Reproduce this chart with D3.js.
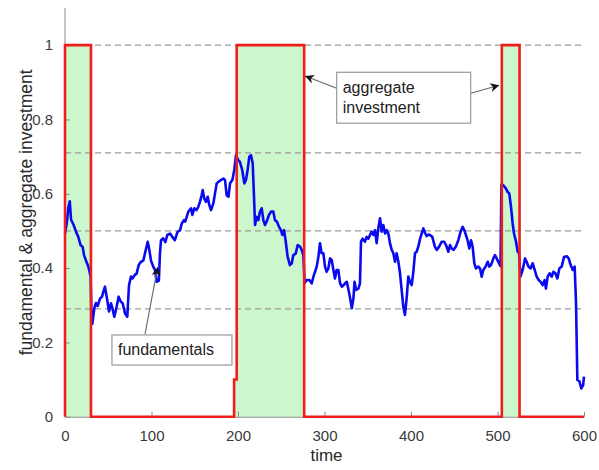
<!DOCTYPE html>
<html>
<head>
<meta charset="utf-8">
<script src="https://cdn.jsdelivr.net/npm/d3@7"></script>
<style>
  html, body { margin: 0; padding: 0; background: #fff; }
  svg { display: block; font-family: "Liberation Sans", Arial, Helvetica, sans-serif; }
</style>
</head>
<body>
<svg id="chart" width="599" height="470"></svg>
<script>
// Fundamentals: time stamps and values of the blue path
const fundTime = [
  0, 2, 4, 5.5, 7, 10, 12.7, 15.4, 18, 20.4, 22, 24.3, 27, 29.7, 30.8, 31.6, 33.9, 35.8, 37.8, 40.5,
  42.8, 44.3, 46.2, 48.2, 50.9, 53.2, 55, 57, 59.7, 62, 64.4, 66.7, 69.4, 72, 74, 76.3, 78, 80.5,
  82.8, 85.2, 87.9, 90.5, 92.9, 95.6, 97.5, 99.4, 102, 104, 106, 108.5, 109.8, 111, 113.5, 116,
  118.3, 121.5, 124, 127, 130, 133, 135, 137.5, 139, 142.6, 145.7, 147.2, 149.5, 152, 154.1, 156,
  158, 159.2, 161, 163, 165, 166.8, 168.8, 171.5, 173.4, 175.4, 177.3, 180.3, 183, 185, 186.9, 189,
  190.8, 193.5, 195.7, 197.7, 200.3, 202.2, 204.9, 207.3, 209.2, 211.1, 213.1, 215, 217, 218.5,
  219.7, 221.5, 223.5, 225.4, 227.4, 229.3, 231.2, 233.1, 235.8, 238.2, 240.8, 242.8, 245, 247.4,
  249.7, 251.2, 253.2, 255, 257.4, 260, 262, 264, 266.7, 269, 271.7, 273.6, 275.5, 277, 279.4,
  282.5, 285.2, 287.2, 289, 291, 292.9, 294.8, 296.7, 298.7, 300.6, 302.5, 304.4, 306.4, 308.3,
  310.3, 312.1, 314, 316, 318, 320, 322, 323.9, 325.8, 327.8, 329.7, 331.6, 333.5, 334.7, 336.6,
  339.3, 341, 342.2, 344.1, 346.8, 348.7, 350.6, 352.6, 354.5, 356.4, 358.4, 360.3, 362.2, 364.2,
  366.1, 368, 370, 372, 373.8, 375.7, 377.7, 379.6, 381.5, 383.4, 385.4, 387.3, 389.2, 391.1, 393,
  395, 396.9, 398.8, 400.8, 402.7, 404.6, 406.5, 408.5, 410.4, 412.3, 414.3, 416.2, 418.1, 420,
  421.9, 424.6, 427.7, 429.7, 432.4, 435.5, 438.2, 440.5, 443.2, 445.1, 447, 449, 451.7, 454.7,
  457.4, 459.7, 461.6, 463.5, 465.4, 467.4, 469.4, 471.3, 473.2, 475.1, 477.8, 479.8, 481.7, 483.6,
  486.3, 488.7, 490.5, 492.5, 495.2, 497.1, 499, 501.7, 503.5, 504.5, 506.7, 509.8, 511.7, 513.6,
  515.6, 517.5, 519.1, 521.4, 523.3, 524.9, 526.5, 529.1, 531.8, 533.7, 535.6, 538.3, 540.6, 543,
  545.3, 547.6, 549.9, 552.2, 554.5, 556, 558, 560.3, 562.7, 564.6, 566.9, 569.2, 571.5, 574.2,
  576.9, 580, 582.3, 584.6, 587, 589.2, 590.8, 592.3, 594.6, 596.9, 599, 600
];
const fundValue = [
  0.493, 0.52, 0.565, 0.58, 0.53, 0.516, 0.498, 0.484, 0.462, 0.457, 0.435, 0.42, 0.404, 0.377, 0.251, 0.25, 0.292, 0.306, 0.298, 0.318,
  0.323, 0.336, 0.35, 0.323, 0.283, 0.305, 0.29, 0.269, 0.296, 0.323, 0.31, 0.305, 0.278, 0.269, 0.354, 0.377, 0.372, 0.381,
  0.385, 0.408, 0.417, 0.42, 0.444, 0.471, 0.449, 0.42, 0.404, 0.395, 0.363, 0.366, 0.44, 0.475, 0.48, 0.47,
  0.489, 0.493, 0.484, 0.475, 0.497, 0.502, 0.52, 0.529, 0.525, 0.552, 0.561, 0.543, 0.561, 0.556, 0.565, 0.578,
  0.596, 0.61, 0.587, 0.578, 0.592, 0.57, 0.556, 0.574, 0.601, 0.628, 0.632, 0.637, 0.641, 0.637, 0.596, 0.592,
  0.628, 0.637, 0.664, 0.704, 0.69, 0.686, 0.664, 0.628, 0.637, 0.664, 0.70, 0.704, 0.682, 0.592,
  0.516, 0.538, 0.529, 0.552, 0.561, 0.529, 0.516, 0.525, 0.543, 0.552, 0.552, 0.529, 0.525, 0.511,
  0.502, 0.489, 0.502, 0.475, 0.43, 0.408, 0.412, 0.435, 0.439, 0.462, 0.458, 0.449, 0.435, 0.36, 0.368,
  0.368, 0.359, 0.377, 0.39, 0.404, 0.43, 0.467, 0.44, 0.44, 0.404, 0.39, 0.399, 0.426, 0.422,
  0.395, 0.372, 0.395, 0.395, 0.359, 0.35, 0.354, 0.359, 0.363, 0.341, 0.318, 0.292, 0.32, 0.363, 0.341,
  0.345, 0.359, 0.471, 0.479, 0.471, 0.484, 0.479, 0.489, 0.498, 0.489, 0.502, 0.467, 0.507, 0.534,
  0.498, 0.516, 0.493, 0.502, 0.493, 0.467, 0.449, 0.44, 0.417, 0.44, 0.417, 0.386, 0.341, 0.296, 0.274,
  0.32, 0.377, 0.363, 0.354, 0.39, 0.44, 0.444, 0.458, 0.478, 0.493, 0.507, 0.495, 0.486, 0.49,
  0.489, 0.484, 0.457, 0.449, 0.457, 0.471, 0.471, 0.462, 0.444, 0.462, 0.453, 0.449, 0.457, 0.475,
  0.498, 0.511, 0.502, 0.489, 0.475, 0.453, 0.475, 0.457, 0.413, 0.399, 0.404, 0.399, 0.377, 0.395,
  0.404, 0.417, 0.404, 0.408, 0.426, 0.435, 0.426, 0.413, 0.405, 0.625, 0.623, 0.614, 0.605, 0.601,
  0.565, 0.52, 0.493, 0.471, 0.444, 0.44, 0.377, 0.395, 0.426, 0.417, 0.405, 0.399, 0.413, 0.395,
  0.377, 0.368, 0.363, 0.354, 0.368, 0.345, 0.377, 0.386, 0.377, 0.39, 0.386, 0.372, 0.399, 0.404,
  0.43, 0.432, 0.426, 0.408, 0.395, 0.404, 0.305, 0.099, 0.096, 0.076, 0.085, 0.108
];

// Aggregate investment: step path (time, level)
const investTime  = [0, 0, 30, 30, 195.5, 195.5, 198.5, 198.5, 276.5, 276.5, 505, 505, 525.5, 525.5, 600];
const investValue = [0, 1, 1, 0, 0, 0.1, 0.1, 1, 1, 0, 0, 1, 1, 0, 0];

// Reference levels drawn as dashed lines
const refLevels = [1, 0.71, 0.5, 0.29];

// Axis ticks
const xTicks = [0, 100, 200, 300, 400, 500, 600];
const yTicks = [0, 0.2, 0.4, 0.6, 0.8, 1];
const yTickLabels = ["0", "0.2", "0.4", "0.6", "0.8", "1"];

const svg = d3.select("#chart");
const x = d3.scaleLinear().domain([0, 600]).range([65, 584]);
const y = d3.scaleLinear().domain([0, 1.1]).range([416.7, 8]);

const fund = fundTime.map((t, i) => ({ t, v: fundValue[i] }));
const invest = investTime.map((t, i) => ({ t, v: investValue[i] }));

// Shaded regions where investment is on
svg.append("path")
  .datum(invest)
  .attr("fill", "#ccf7cc")
  .attr("d", d3.area().x(d => x(d.t)).y0(y(0)).y1(d => y(d.v)));

// Dashed reference levels
svg.append("g").selectAll("line")
  .data(refLevels)
  .join("line")
  .attr("x1", x(0)).attr("x2", x(600))
  .attr("y1", d => y(d)).attr("y2", d => y(d))
  .attr("stroke", "#9a9a9a")
  .attr("stroke-width", 1.2)
  .attr("stroke-dasharray", "6,4");

// Axes
const tickColor = "#3a3a3a";
const xAxis = svg.append("g")
  .attr("transform", `translate(0,${y(0)})`)
  .call(d3.axisBottom(x).tickValues(xTicks).tickSizeInner(-5).tickSizeOuter(0).tickPadding(14));
const yAxis = svg.append("g")
  .attr("transform", `translate(${x(0)},0)`)
  .call(d3.axisLeft(y).tickValues(yTicks).tickFormat((d, i) => yTickLabels[i]).tickSizeInner(-5).tickSizeOuter(0).tickPadding(12));
[xAxis, yAxis].forEach(g => {
  g.select(".domain").attr("stroke", "#8a8a8a").attr("stroke-width", 1);
  g.selectAll(".tick line").attr("stroke", "#8a8a8a");
  g.selectAll(".tick text").attr("fill", tickColor).style("font-size", "15px")
    .style("font-family", "'Liberation Sans', Arial, Helvetica, sans-serif");
});
// extend the y axis to the top of the domain
yAxis.select(".domain").attr("d", `M0,${y(0)}V${y(1.1)}`);

// Fundamentals path
svg.append("path")
  .datum(fund)
  .attr("fill", "none")
  .attr("stroke", "#0a0af0")
  .attr("stroke-width", 2.6)
  .attr("stroke-linejoin", "round")
  .attr("d", d3.line().x(d => x(d.t)).y(d => y(d.v)));

// Aggregate investment path
svg.append("path")
  .datum(invest)
  .attr("fill", "none")
  .attr("stroke", "#f21c1c")
  .attr("stroke-width", 2.6)
  .attr("stroke-linejoin", "miter")
  .attr("d", d3.line().x(d => x(d.t)).y(d => y(d.v)));

// Axis titles
svg.append("text")
  .attr("x", (x(0) + x(600)) / 2 + 2).attr("y", 461)
  .attr("text-anchor", "middle")
  .attr("fill", "#2a2a2a")
  .style("font-size", "17px")
  .text("time");
svg.append("text")
  .attr("transform", `translate(32,${(y(0) + y(1.1)) / 2}) rotate(-90)`)
  .attr("text-anchor", "middle")
  .attr("fill", "#2a2a2a")
  .style("font-size", "17.5px")
  .text("fundamental & aggregate investment");

// Annotations
const defs = svg.append("defs");
defs.append("marker")
  .attr("id", "head")
  .attr("viewBox", "0 0 10 10")
  .attr("refX", 10).attr("refY", 5)
  .attr("markerWidth", 9).attr("markerHeight", 9)
  .attr("markerUnits", "userSpaceOnUse")
  .attr("orient", "auto")
  .append("path")
  .attr("d", "M0,0 L10,5 L0,10 L3,5 Z")
  .attr("fill", "#111");

function arrow(t0, v0, t1, v1) {
  svg.append("line")
    .attr("x1", x(t0)).attr("y1", y(v0))
    .attr("x2", x(t1)).attr("y2", y(v1))
    .attr("stroke", "#666").attr("stroke-width", 1.1)
    .attr("marker-end", "url(#head)");
}
function box(t0, t1, vTop, vBottom, lines) {
  svg.append("rect")
    .attr("x", x(t0)).attr("y", y(vTop))
    .attr("width", x(t1) - x(t0)).attr("height", y(vBottom) - y(vTop))
    .attr("fill", "#fff").attr("stroke", "#999").attr("stroke-width", 1.2);
  const txt = svg.append("text")
    .attr("fill", "#222")
    .style("font-size", "16px");
  const lineH = 20;
  const top = y(vTop) + (y(vBottom) - y(vTop) - lineH * lines.length) / 2;
  lines.forEach((s, i) => {
    txt.append("tspan")
      .attr("x", x(t0) + 6)
      .attr("y", top + lineH * i + 15)
      .text(s);
  });
}

arrow(92.5, 0.222, 107.2, 0.403);
box(54.3, 193, 0.22, 0.139, ["fundamentals"]);

arrow(314.1, 0.884, 277.5, 0.917);
arrow(465, 0.868, 502, 0.892);
box(314.1, 469, 0.927, 0.79, ["aggregate", "investment"]);
</script>
</body>
</html>
